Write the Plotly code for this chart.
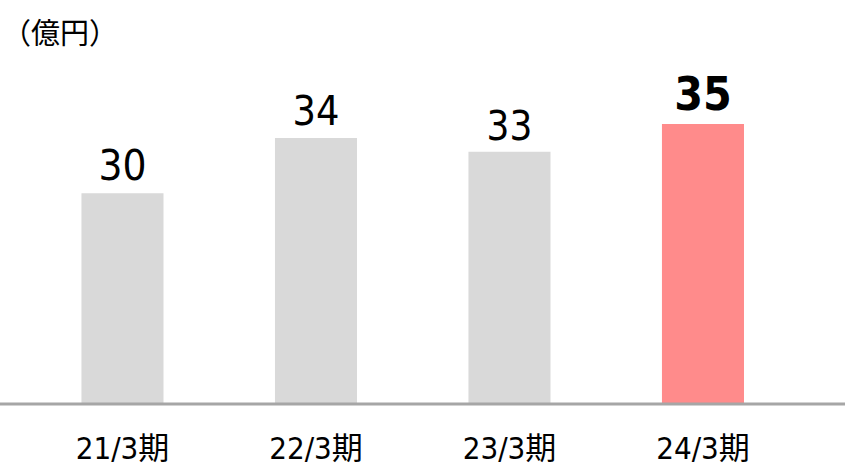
import plotly.graph_objects as go

categories = ["21/3期", "22/3期", "23/3期", "24/3期"]
values = [30, 34, 33, 35]
bar_colors = ["#D9D9D9", "#D9D9D9", "#D9D9D9", "#FF8B8B"]
label_sizes = [42, 41, 40, 46]
label_weights = ["normal", "normal", "normal", "bold"]
unit_label = "（億円）"

num_font = "DejaVu Sans Condensed, Roboto, sans-serif"

fig = go.Figure(
    go.Bar(
        x=categories,
        y=values,
        marker=dict(color=bar_colors, line=dict(width=0)),
        width=0.424,
        text=[str(v) for v in values],
        textposition="outside",
        textfont=dict(family=num_font, size=label_sizes, color="#000000", weight=label_weights),
        cliponaxis=False,
        hoverinfo="skip",
    )
)

fig.update_layout(
    width=845,
    height=468,
    margin=dict(l=0, r=0, t=0, b=64, autoexpand=False),
    paper_bgcolor="white",
    plot_bgcolor="white",
    showlegend=False,
    xaxis=dict(
        type="category",
        range=[-0.633, 3.734],
        showgrid=False,
        zeroline=False,
        showline=False,
        ticks="",
        automargin=False,
        tickfont=dict(family="DejaVu Sans Condensed, Noto Sans CJK JP, sans-serif", size=31, color="#000000"),
        ticklabelstandoff=23,
    ),
    yaxis=dict(
        range=[14.8, 43.95],
        visible=False,
        showgrid=False,
        zeroline=False,
        automargin=False,
    ),
    shapes=[
        dict(type="line", xref="paper", yref="paper", x0=0, x1=1, y0=0, y1=0,
             line=dict(color="#A6A6A6", width=3)),
    ],
    annotations=[
        dict(text=unit_label, xref="paper", yref="paper", x=0, y=1, xanchor="left", yanchor="top",
             yshift=-8, xshift=0, showarrow=False,
             font=dict(family="Noto Sans CJK JP, sans-serif", size=29, color="#000000")),
    ],
)

fig.write_html("out.html")
